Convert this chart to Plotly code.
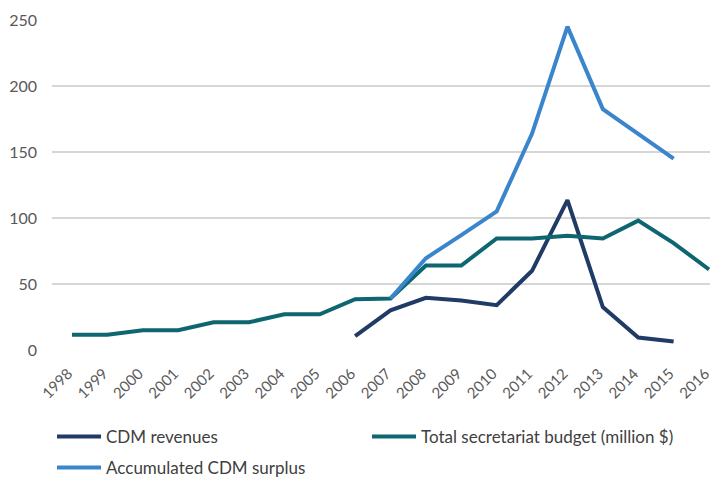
import plotly.graph_objects as go

years = list(range(1998, 2017))
budget = [11.5, 11.5, 15, 15, 21, 21, 27, 27, 38.5, 39, 64, 64, 84.5, 84.5, 86.5, 84.5, 98, 81, 61]
rev_years = list(range(2006, 2016))
revenues = [10.5, 30, 39.5, 37.5, 34, 60, 113.5, 32.5, 9.5, 6.5]
sur_years = list(range(2007, 2016))
surplus = [39, 69.5, 87, 105, 164, 245, 182.5, 164, 145]

c_rev = "#1f3b66"
c_bud = "#0d6670"
c_sur = "#3a85cc"

fig = go.Figure()
fig.add_trace(go.Scatter(x=rev_years, y=revenues, mode="lines", name="CDM revenues",
                         line=dict(color=c_rev, width=4), legend="legend"))
fig.add_trace(go.Scatter(x=years, y=budget, mode="lines", name="Total secretariat budget (million $)",
                         line=dict(color=c_bud, width=4), legend="legend"))
fig.add_trace(go.Scatter(x=sur_years, y=surplus, mode="lines", name="Accumulated CDM surplus",
                         line=dict(color=c_sur, width=4), legend="legend2"))

legend_common = dict(orientation="h", xref="container", yref="container",
                     xanchor="left", yanchor="middle",
                     entrywidth=256, entrywidthmode="pixels", itemwidth=44,
                     font=dict(size=17, color="#404040", family="Lato, sans-serif"),
                     bgcolor="rgba(0,0,0,0)")

fig.update_layout(
    width=718, height=481,
    margin=dict(l=44, r=0, t=12, b=139, autoexpand=False),
    paper_bgcolor="white", plot_bgcolor="white",
    font=dict(family="Lato, Open Sans, sans-serif", color="#595959", size=14),
    xaxis=dict(range=[1997.435, 2016.48], tickmode="array", tickvals=years,
               ticktext=[str(y) for y in years], tickangle=-45, showgrid=False,
               zeroline=False, showline=False, ticks="", tickfont=dict(size=15),
               automargin=False, ticklabelstandoff=11, ticklabelshift=-4),
    yaxis=dict(range=[0, 250], dtick=50, showgrid=True, gridcolor="#d6d6d6", gridwidth=1.5,
               zeroline=False, showline=False, ticks="", ticklabelstandoff=14,
               tickfont=dict(size=16), automargin=False),
    legend=dict(x=0.0613, y=1 - 429 / 481, **legend_common),
    legend2=dict(x=0.0613, y=1 - 460 / 481, **legend_common),
    showlegend=True,
)

fig.write_html("out.html")
